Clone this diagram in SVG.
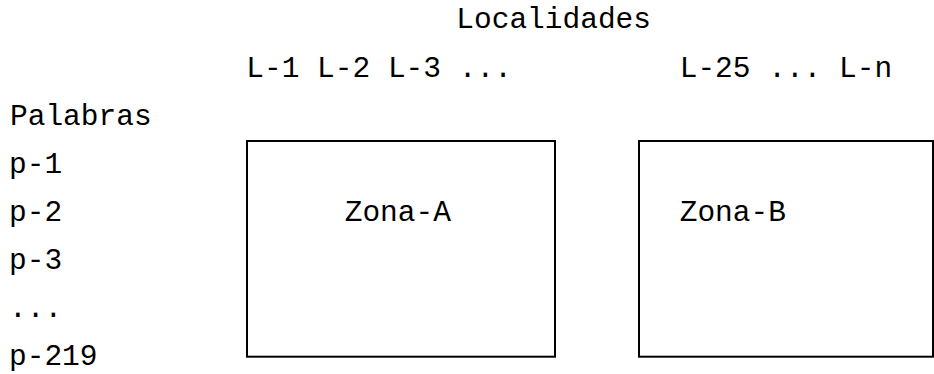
<svg xmlns="http://www.w3.org/2000/svg" width="934" height="374" viewBox="0 0 934 374">
<style>
  text { font-family: "Liberation Mono", "Courier New", monospace; font-size: 29.5px; fill: #000; }
  .box { fill: #fff; stroke: #000; stroke-width: 2; }
</style>
<rect width="934" height="374" fill="#fff"/>
<g id="labels">
  <text x="456.3" y="28.3">Localidades</text>
  <text x="246.3" y="76.7">L-1 L-2 L-3 ...</text>
  <text x="679.7" y="76.7">L-25 ... L-n</text>
  <text x="10" y="125">Palabras</text>
  <text x="9" y="172.8">p-1</text>
  <text x="9" y="220.8">p-2</text>
  <text x="9" y="269">p-3</text>
  <text x="9" y="317">...</text>
  <text x="9" y="365">p-219</text>
</g>
<g id="zona-a">
  <rect class="box" x="247" y="141" width="308" height="215.7"/>
  <text x="344.7" y="220.8">Zona-A</text>
</g>
<g id="zona-b">
  <rect class="box" x="639" y="141" width="294" height="215.7"/>
  <text x="679.7" y="220.8">Zona-B</text>
</g>
<g id="connectors"></g>
</svg>
